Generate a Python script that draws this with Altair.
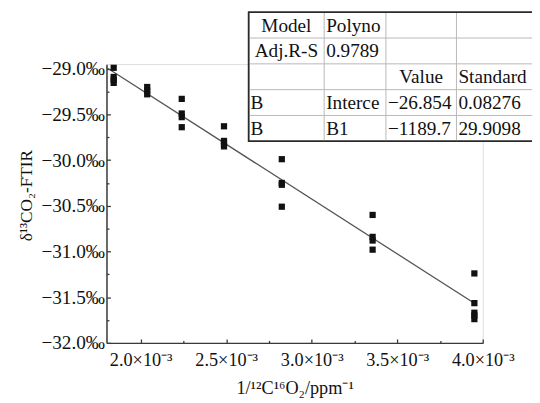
import altair as alt
import pandas as pd

# ---------------- data ----------------
inv_co2 = [0.001842, 0.002038, 0.002240, 0.002487, 0.002825, 0.003356, 0.003951]
d13c = [
    [-28.99, -29.09, -29.12, -29.155],
    [-29.20, -29.24, -29.28],
    [-29.33, -29.49, -29.53, -29.64],
    [-29.63, -29.79, -29.82, -29.85],
    [-29.99, -30.25, -30.27, -30.51],
    [-30.60, -30.84, -30.88, -30.98],
    [-31.24, -31.565, -31.67, -31.70, -31.74],
]
x_major = [0.0020, 0.0025, 0.0030, 0.0035, 0.0040]
x_minor = [0.00225, 0.00275, 0.00325, 0.00375]
y_major = [-32.0, -31.5, -31.0, -30.5, -30.0, -29.5, -29.0]
y_minor = [-31.75, -31.25, -30.75, -30.25, -29.75, -29.25]

table_text = [
    ["Model", "Polyno", "", ""],
    ["Adj.R-S", "0.9789", "", ""],
    ["", "", "Value", "Standard"],
    ["B", "Interce", "−26.854", "0.08276"],
    ["B", "B1", "−1189.7", "29.9098"],
]
table_align = [
    ["center", "left", "left", "left"],
    ["center", "left", "left", "left"],
    ["left", "left", "center", "left"],
    ["left", "left", "left", "left"],
    ["left", "left", "left", "left"],
]

# ---------------- layout ----------------
FONT = "Liberation Serif"
W, H = 382, 283
PAD_L, PAD_T, PAD_R, PAD_B = 100, 54, 50, 56
OX, OY = 8 + PAD_L, 8 + PAD_T           # page position of plot origin
X_DOMAIN = [0.0018, 0.0040]
Y_DOMAIN = [-32.0, -28.95]
AXIS_COLOR = "#3a3a3a"

col_edges = [252.3, 329.0, 391.7, 463.3, 560.0]   # page px
row_edges = [9.3, 35.5, 61.7, 87.9, 114.1, 140.3]  # page px

# ---------------- frames ----------------
pts = pd.DataFrame(
    [(x, y) for x, ys in zip(inv_co2, d13c) for y in ys], columns=["x", "y"]
)

xs = alt.Scale(domain=X_DOMAIN, nice=False, zero=False)
ys_ = alt.Scale(domain=Y_DOMAIN, nice=False, zero=False)

x_main = alt.Axis(
    orient="bottom", values=x_major, grid=False, ticks=False,
    labelExpr="format(datum.value*1000, '.1f') + '×10⁻³'",
    labelFont=FONT, labelFontSize=18.5, labelColor="#111", labelPadding=8,
    labelFlush=False, labelOverlap=False,
    domainColor=AXIS_COLOR, domainWidth=1.5,
    title="1/¹²C¹⁶O₂/ppm⁻¹", titleFont=FONT, titleFontSize=18.5,
    titleFontWeight="normal", titleColor="#111", titleY=51,
    titleBaseline="alphabetic",
)
y_main = alt.Axis(
    orient="left", values=y_major, grid=False, ticks=False,
    labelExpr="format(datum.value, '.1f') + '‰'",
    labelFont=FONT, labelFontSize=19.5, labelColor="#111", labelPadding=2,
    labelFlush=False, labelOverlap=False,
    domainColor=AXIS_COLOR, domainWidth=1.5,
    title="δ¹³CO₂-FTIR", titleFont=FONT, titleFontSize=17.5,
    titleFontWeight="normal", titleColor="#111", titleX=-81, titleY=133,
    titleAlign="center", titleBaseline="middle",
)


def tick_axis(orient, vals, size):
    return alt.Axis(
        orient=orient, values=vals, labels=False, domain=False, grid=False,
        ticks=True, tickSize=size, offset=-size, tickColor=AXIS_COLOR,
        tickWidth=1.3, title="",
    )


points = alt.Chart(pts).mark_square(size=40, color="#111", opacity=1).encode(
    x=alt.X("x:Q", scale=xs, axis=x_main),
    y=alt.Y("y:Q", scale=ys_, axis=y_main),
)
major_ticks = alt.Chart(pts).mark_point(opacity=0).encode(
    x=alt.X("x:Q", scale=xs, axis=tick_axis("bottom", x_major, 4)),
    y=alt.Y("y:Q", scale=ys_, axis=tick_axis("left", y_major, 4)),
)
minor_ticks = alt.Chart(pts).mark_point(opacity=0).encode(
    x=alt.X("x:Q", scale=xs, axis=tick_axis("bottom", x_minor, 2.5)),
    y=alt.Y("y:Q", scale=ys_, axis=tick_axis("left", y_minor, 2.5)),
)
fit = (
    alt.Chart(pts)
    .transform_regression("x", "y", extent=[X_DOMAIN[0], max(inv_co2)])
    .mark_line(color="#555", strokeWidth=1.3)
    .encode(
        x=alt.X("x:Q", scale=xs, axis=None),
        y=alt.Y("y:Q", scale=ys_, axis=None),
    )
)

# ---------------- table ----------------
box = pd.DataFrame([{
    "x0": col_edges[0] - OX, "x1": col_edges[-1] - OX,
    "y0": row_edges[0] - OY, "y1": row_edges[-1] - OY,
}])
hlines = pd.DataFrame([
    {"x0": col_edges[0] - OX, "x1": col_edges[-1] - OX, "y0": r - OY, "y1": r - OY}
    for r in row_edges[1:-1]
])
vlines = pd.DataFrame([
    {"x0": c - OX, "x1": c - OX, "y0": row_edges[0] - OY, "y1": row_edges[-1] - OY}
    for c in col_edges[1:-1]
])
cells = []
for r, row in enumerate(table_text):
    for c, t in enumerate(row):
        if not t:
            continue
        a = table_align[r][c]
        if a == "center":
            px = (col_edges[c] + min(col_edges[c + 1], 540)) / 2
        else:
            px = col_edges[c] + 2
        cells.append({"t": t, "a": a, "px": px - OX, "py": row_edges[r + 1] - 6.5 - OY})
cells = pd.DataFrame(cells)

PX = lambda f: alt.X(f + ":Q", scale=None, axis=None)
PY = lambda f: alt.Y(f + ":Q", scale=None, axis=None)

tbl_box = alt.Chart(box).mark_rect(fill="white", stroke="#2a2a2a", strokeWidth=1.5).encode(
    x=PX("x0"), x2="x1", y=PY("y0"), y2="y1"
)
tbl_h = alt.Chart(hlines).mark_rule(color="#b8b8b8", strokeWidth=1).encode(
    x=PX("x0"), x2="x1", y=PY("y0"), y2="y1"
)
tbl_v = alt.Chart(vlines).mark_rule(color="#b8b8b8", strokeWidth=1).encode(
    x=PX("x0"), x2="x1", y=PY("y0"), y2="y1"
)
tbl_border = alt.Chart(box).mark_rect(fill=None, stroke="#2a2a2a", strokeWidth=1.5).encode(
    x=PX("x0"), x2="x1", y=PY("y0"), y2="y1"
)
txt_layers = []
for a in ["left", "center"]:
    txt_layers.append(
        alt.Chart(cells).transform_filter(alt.datum.a == a)
        .mark_text(align=a, baseline="alphabetic", font=FONT, fontSize=19.5, color="#111")
        .encode(x=PX("px"), y=PY("py"), text="t:N")
    )

chart = (
    alt.layer(major_ticks, minor_ticks, fit, points, tbl_box, tbl_h, tbl_v, tbl_border, *txt_layers)
    .resolve_axis(x="independent", y="independent")
    .properties(
        width=W, height=H,
        padding={"left": PAD_L, "top": PAD_T, "right": PAD_R, "bottom": PAD_B},
        autosize=alt.AutoSizeParams(type="none"),
        background="white",
    )
    .configure_view(stroke=None)
    .configure(font=FONT)
)

chart.save("out.html", embed_options={"renderer": "svg", "actions": False})
